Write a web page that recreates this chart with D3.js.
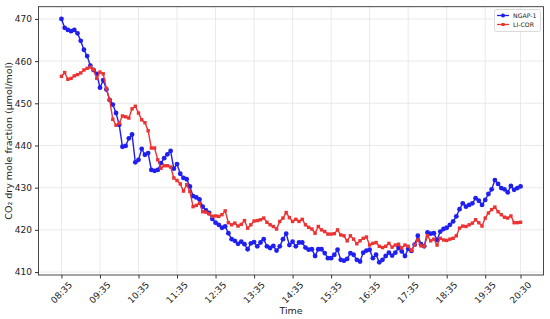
<!DOCTYPE html>
<meta charset="utf-8">
<style>
    body { margin: 0; background: #fff; }
    svg text { font-family: "DejaVu Sans", sans-serif; fill: #222; }
    .grid line { stroke: #e4e4e4; stroke-width: 0.8; }
</style>
<svg width="550" height="319"></svg>
<script src="https://cdn.jsdelivr.net/npm/d3@7"></script>
<script>
    // readings every 5 minutes, 08:35 .. 20:30
    var startTime = "08:35";
    var stepMinutes = 5;

    var ngapValues = [
        470.0, 467.9, 467.4, 467.1, 467.4, 466.6, 464.8, 462.7, 461.2, 458.9, 457.9, 457.0,
        453.7, 455.5, 453.3, 450.8, 449.7, 447.7, 444.9, 439.7, 439.9, 441.7, 442.6, 436.0,
        436.6, 439.2, 437.8, 438.2, 434.2, 434.0, 434.2, 435.8, 437.0, 437.9, 438.7, 434.5,
        435.6, 433.3, 432.3, 432.0, 430.3, 428.0, 427.7, 427.2, 425.5, 424.6, 424.0, 422.6,
        421.7, 421.2, 420.5, 420.8, 419.2, 417.8, 417.4, 416.7, 417.2, 416.6, 415.4, 416.8,
        417.1, 416.1, 417.0, 417.8, 416.1, 415.7, 416.2, 415.1, 416.1, 417.8, 419.1, 416.4,
        417.2, 416.1, 417.0, 417.0, 415.8, 415.3, 415.4, 413.8, 415.4, 415.4, 414.5, 413.3,
        413.3, 414.1, 415.3, 412.9, 412.7, 413.1, 414.5, 414.1, 412.9, 412.5, 414.6, 415.1,
        415.3, 413.3, 414.1, 412.3, 412.9, 413.8, 414.6, 413.9, 414.6, 415.7, 414.9, 413.8,
        415.5, 415.0, 416.5, 418.6, 416.6, 416.1, 419.4, 419.1, 419.2, 417.6, 419.6, 420.2,
        420.5, 421.2, 422.0, 423.2, 424.9, 426.3, 425.5, 425.9, 426.3, 427.5, 426.9, 425.9,
        427.1, 428.5, 429.6, 431.8, 430.9, 429.9, 429.6, 428.9, 430.4, 429.5, 429.9, 430.3
    ];

    var licorValues = [
        456.4, 457.3, 455.7, 455.9, 456.5, 456.8, 457.2, 457.9, 458.3, 458.6, 458.0, 455.9,
        457.4, 457.0, 453.5, 450.8, 446.2, 444.8, 445.3, 447.0, 446.8, 446.5, 448.7, 449.3,
        447.7, 446.1, 445.4, 443.5, 439.4, 439.4, 436.6, 434.6, 435.2, 435.2, 434.9, 432.3,
        431.7, 430.9, 429.2, 430.7, 429.1, 425.5, 425.8, 426.3, 424.3, 424.2, 423.8, 423.2,
        423.3, 423.2, 423.6, 424.5, 421.7, 421.2, 421.6, 420.9, 421.3, 422.2, 420.4, 421.2,
        422.1, 422.2, 422.4, 422.8, 421.8, 421.2, 420.8, 420.2, 422.0, 422.8, 424.1, 422.9,
        422.0, 422.5, 422.0, 422.5, 421.2, 420.6, 420.2, 419.2, 420.8, 420.0, 419.6, 419.0,
        419.0, 419.1, 420.0, 418.8, 418.6, 417.4, 418.6, 417.8, 416.7, 417.4, 418.0, 418.3,
        416.4, 416.8, 417.0, 416.1, 415.8, 416.1, 416.8, 415.9, 416.4, 416.6, 415.7, 416.4,
        416.1, 415.1, 416.4, 417.6, 416.2, 416.1, 418.6, 417.4, 417.8, 416.4, 418.0, 417.6,
        417.5, 417.8, 418.0, 418.6, 420.4, 420.9, 420.8, 421.2, 421.6, 422.4, 421.7, 420.9,
        422.8, 424.0, 424.8, 425.4, 424.3, 423.6, 423.0, 422.8, 423.3, 421.7, 421.7, 421.8
    ];

    var xTickLabels = ["08:35", "09:35", "10:35", "11:35", "12:35", "13:35", "14:35",
        "15:35", "16:35", "17:35", "18:35", "19:35", "20:30"];
    var yTicks = [410, 420, 430, 440, 450, 460, 470];

    var seriesNames = ["NGAP-1", "LI-COR"];
    var seriesColors = ["#1f1ff0", "#ec3232"];

    function toMinutes(s) {
        var p = s.split(":");
        return +p[0] * 60 + +p[1];
    }

    var t0 = toMinutes(startTime);
    var ngap = ngapValues.map(function (v, i) { return {t: t0 + i * stepMinutes, v: v}; });
    var licor = licorValues.map(function (v, i) { return {t: t0 + i * stepMinutes, v: v}; });

    var svg = d3.select("svg");
    var plotLeft = 38.5, plotRight = 543.5, plotTop = 6.7, plotBottom = 275;

    var tMin = d3.min(ngap, function (d) { return d.t; }),
        tMax = d3.max(ngap, function (d) { return d.t; }),
        pad = (tMax - tMin) * 0.05;

    var x = d3.scaleLinear().domain([tMin - pad, tMax + pad]).range([plotLeft, plotRight]);
    var y = d3.scaleLinear().domain([409.3, 472.9]).range([plotBottom, plotTop]);

    // grid
    var grid = svg.append("g").attr("class", "grid");
    grid.selectAll("line.gx")
        .data(xTickLabels)
        .enter().append("line")
        .attr("x1", function (d) { return x(toMinutes(d)); })
        .attr("x2", function (d) { return x(toMinutes(d)); })
        .attr("y1", plotTop).attr("y2", plotBottom);
    grid.selectAll("line.gy")
        .data(yTicks)
        .enter().append("line")
        .attr("x1", plotLeft).attr("x2", plotRight)
        .attr("y1", function (d) { return y(d); })
        .attr("y2", function (d) { return y(d); });

    // axes
    var xAxis = d3.axisBottom(x)
        .tickValues(xTickLabels.map(toMinutes))
        .tickSize(3.5)
        .tickFormat("");
    svg.append("g")
        .attr("transform", "translate(0," + plotBottom + ")")
        .call(xAxis)
        .call(function (g) { g.select(".domain").remove(); g.selectAll("line").attr("stroke", "#333"); });

    svg.append("g").selectAll("text")
        .data(xTickLabels)
        .enter().append("text")
        .attr("transform", function (d) { return "translate(" + x(toMinutes(d)) + ",292.5) rotate(-45)"; })
        .attr("text-anchor", "middle")
        .attr("dy", "0.35em")
        .style("font-size", "9px")
        .text(function (d) { return d; });

    var yAxis = d3.axisLeft(y).tickValues(yTicks).tickSize(3.5).tickPadding(3);
    svg.append("g")
        .attr("transform", "translate(" + plotLeft + ",0)")
        .call(yAxis)
        .call(function (g) {
            g.select(".domain").remove();
            g.selectAll("line").attr("stroke", "#333");
            g.selectAll("text").style("font-size", "9px").attr("fill", "#222");
        });

    svg.append("rect")
        .attr("x", plotLeft).attr("y", plotTop)
        .attr("width", plotRight - plotLeft).attr("height", plotBottom - plotTop)
        .attr("fill", "none").attr("stroke", "#333").attr("stroke-width", 0.9);

    svg.append("text")
        .attr("x", (plotLeft + plotRight) / 2).attr("y", 314)
        .attr("text-anchor", "middle")
        .style("font-size", "9.5px")
        .text("Time");

    svg.append("text")
        .attr("transform", "translate(11.5," + ((plotTop + plotBottom) / 2) + ") rotate(-90)")
        .attr("text-anchor", "middle")
        .style("font-size", "9.5px")
        .text("CO₂ dry mole fraction (μmol/mol)");

    // series
    var line = d3.line()
        .x(function (d) { return x(d.t); })
        .y(function (d) { return y(d.v); });

    var series = [ngap, licor];
    series.forEach(function (data, k) {
        var g = svg.append("g");
        g.append("path")
            .datum(data)
            .attr("d", line)
            .attr("fill", "none")
            .attr("stroke", seriesColors[k])
            .attr("stroke-width", 1.4);
        if (k === 0) {
            g.selectAll("circle")
                .data(data)
                .enter().append("circle")
                .attr("cx", function (d) { return x(d.t); })
                .attr("cy", function (d) { return y(d.v); })
                .attr("r", 2.4)
                .attr("fill", seriesColors[k]);
        } else {
            g.selectAll("rect")
                .data(data)
                .enter().append("rect")
                .attr("x", function (d) { return x(d.t) - 1.7; })
                .attr("y", function (d) { return y(d.v) - 1.7; })
                .attr("width", 3.4).attr("height", 3.4)
                .attr("fill", seriesColors[k]);
        }
    });

    // legend
    var legend = svg.append("g");
    legend.append("rect")
        .attr("x", 494.5).attr("y", 9.5).attr("width", 46).attr("height", 22)
        .attr("rx", 2).attr("fill", "#fff").attr("stroke", "#d0d0d0").attr("stroke-width", 0.8);
    seriesNames.forEach(function (name, k) {
        var ly = 15.5 + k * 9;
        legend.append("line")
            .attr("x1", 497).attr("x2", 509).attr("y1", ly).attr("y2", ly)
            .attr("stroke", seriesColors[k]).attr("stroke-width", 1.3);
        if (k === 0) {
            legend.append("circle").attr("cx", 503).attr("cy", ly).attr("r", 2).attr("fill", seriesColors[k]);
        } else {
            legend.append("rect").attr("x", 501.5).attr("y", ly - 1.5).attr("width", 3).attr("height", 3).attr("fill", seriesColors[k]);
        }
        legend.append("text")
            .attr("x", 513).attr("y", ly).attr("dy", "0.35em")
            .style("font-size", "6.2px")
            .text(name);
    });
</script>
